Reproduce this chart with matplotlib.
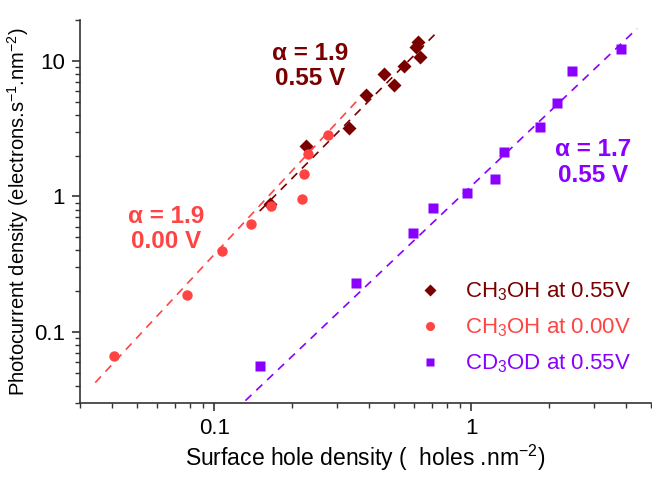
import matplotlib
matplotlib.use("Agg")
import matplotlib.pyplot as plt
from matplotlib.lines import Line2D

plt.rcParams['font.family'] = ['Liberation Sans', 'DejaVu Sans']
plt.rcParams['mathtext.fontset'] = 'custom'
plt.rcParams['mathtext.rm'] = 'Liberation Sans'
plt.rcParams['mathtext.it'] = 'Liberation Sans:italic'
plt.rcParams['mathtext.bf'] = 'Liberation Sans:bold'

# --- data ---
meoh055_x = [0.165, 0.228, 0.335, 0.389, 0.456, 0.501, 0.544, 0.609, 0.618, 0.629]
meoh055_y = [0.88, 2.34, 3.18, 5.63, 8.0, 6.6, 9.1, 12.6, 13.8, 10.6]

meoh000_x = [0.0406, 0.0783, 0.107, 0.139, 0.166, 0.219, 0.223, 0.231, 0.276]
meoh000_y = [0.067, 0.189, 0.395, 0.629, 0.844, 0.96, 1.47, 2.07, 2.82]

cd3od_x = [0.150, 0.354, 0.591, 0.707, 0.965, 1.24, 1.34, 1.85, 2.15, 2.46, 3.83]
cd3od_y = [0.0566, 0.231, 0.54, 0.826, 1.06, 1.35, 2.12, 3.25, 4.88, 8.4, 12.2]

fit055_x = [0.15, 0.74]
fit055_y = [0.78, 16.5]
fit000_x = [0.0344, 0.37]
fit000_y = [0.0424, 5.4]
fitcd_x = [0.132, 4.41]
fitcd_y = [0.0312, 17.3]

labels = ['CH$_3$OH at 0.55V', 'CH$_3$OH at 0.00V', 'CD$_3$OD at 0.55V']
c_dark = '#7a0000'
c_red = '#ff4444'
c_purple = '#8a00ff'

fig = plt.figure(figsize=(6.52, 4.82), dpi=100)
ax = fig.add_axes([0.1227, 0.164, 0.876, 0.7945])

dash = (0, (5, 4))
ax.plot(fit000_x, fit000_y, color=c_red, lw=1.2, linestyle=dash, zorder=2)
ax.plot(fit055_x, fit055_y, color=c_dark, lw=1.2, linestyle=dash, zorder=2)
ax.plot(fitcd_x, fitcd_y, color=c_purple, lw=1.2, linestyle=dash, zorder=2)

ax.plot(meoh055_x, meoh055_y, 'D', color=c_dark, ms=7, mec='none', zorder=3)
ax.plot(meoh000_x, meoh000_y, 'o', color=c_red, ms=7.5, mec='none', zorder=4)
ax.plot(cd3od_x, cd3od_y, 's', color=c_purple, ms=6.5, mec='none', zorder=3)

ax.set_xscale('log')
ax.set_yscale('log')
ax.set_xlim(0.03, 5)
ax.set_ylim(0.03, 20)

for s in ['top', 'right']:
    ax.spines[s].set_visible(False)
for s in ['left', 'bottom']:
    ax.spines[s].set_linewidth(1.2)
    ax.spines[s].set_color('#333333')

ax.xaxis.set_major_formatter(matplotlib.ticker.FuncFormatter(lambda v, p: f'{v:g}'))
ax.yaxis.set_major_formatter(matplotlib.ticker.FuncFormatter(lambda v, p: f'{v:g}'))
ax.xaxis.set_minor_formatter(matplotlib.ticker.NullFormatter())
ax.yaxis.set_minor_formatter(matplotlib.ticker.NullFormatter())
ax.tick_params(which='major', direction='out', length=6, width=1.2, labelsize=16, color='#333333')
ax.tick_params(which='minor', direction='out', length=3.5, width=1.0, color='#333333')
ax.tick_params(axis='y', which='major', pad=5)
ax.tick_params(axis='x', which='major', pad=5)

ax.set_xlabel('Surface hole density (  holes .nm$^{-2}$)', fontsize=16.5)
ax.set_ylabel('Photocurrent density (electrons.s$^{-1}$.nm$^{-2}$)', fontsize=14.5)
ax.xaxis.set_label_coords(0.5, -0.104)
ax.yaxis.set_label_coords(-0.086, 0.5)

ax.text(0.403, 0.88, 'α = 1.9\n0.55 V', transform=ax.transAxes, color=c_dark,
        fontsize=17.5, fontweight='bold', ha='center', va='center', linespacing=1.15)
ax.text(0.151, 0.454, 'α = 1.9\n0.00 V', transform=ax.transAxes, color=c_red,
        fontsize=17.5, fontweight='bold', ha='center', va='center', linespacing=1.15)
ax.text(0.898, 0.627, 'α = 1.7\n0.55 V', transform=ax.transAxes, color=c_purple,
        fontsize=17.5, fontweight='bold', ha='center', va='center', linespacing=1.15)

handles = [Line2D([], [], marker='D', ls='none', color=c_dark, ms=6, mec='none'),
           Line2D([], [], marker='o', ls='none', color=c_red, ms=6.5, mec='none'),
           Line2D([], [], marker='s', ls='none', color=c_purple, ms=5.5, mec='none')]
leg = ax.legend(handles, labels, loc='center left', bbox_to_anchor=(0.538, 0.196),
                frameon=False, fontsize=16, handletextpad=0.6, labelspacing=0.6,
                labelcolor=[c_dark, c_red, c_purple])

fig.savefig('out.png', dpi=100)
